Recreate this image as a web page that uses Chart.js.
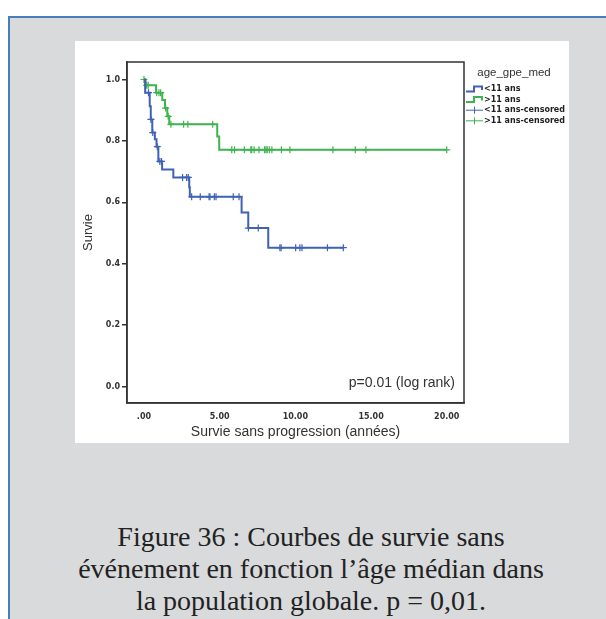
<!DOCTYPE html>
<html>
<head>
<meta charset="utf-8">
<script src="https://cdn.jsdelivr.net/npm/chart.js@4.4.0/dist/chart.umd.min.js"></script>
<style>
body { margin: 0; width: 606px; height: 619px; background: #fff; position: relative; overflow: hidden; }
#panel { position: absolute; left: 8px; top: 16px; width: 640px; height: 640px; background: #d9dadc;
         border-top: 2px solid #4a7ebb; border-left: 2px solid #4a7ebb; box-sizing: border-box; }
#box { position: absolute; left: 75px; top: 41px; width: 494px; height: 402px; background: #fff; }
#caption { position: absolute; left: 8px; top: 521px; width: 606px; text-align: center;
           font-family: "Liberation Serif", serif; font-size: 28px; line-height: 32px; color: #222; }
</style>
</head>
<body>
<div id="panel"></div>
<div id="box"><canvas id="kmChart" width="494" height="402"></canvas></div>
<div id="caption">Figure 36 : Courbes de survie sans<br>événement en fonction l’âge médian dans<br>la population globale. p = 0,01.</div>
<script>
// data
var groupLabels = ['<11 ans', '>11 ans'];
var legendTitle = 'age_gpe_med';
var pText = 'p=0.01 (log rank)';

// <11 ans : step times and survival
var youngTimes = [0, 0.08, 0.38, 0.45, 0.55, 0.72, 0.83, 0.95, 1.20, 1.94, 2.99, 3.03, 6.45, 6.89, 8.21, 13.17];
var youngSurv  = [1.0, 0.957, 0.913, 0.870, 0.827, 0.805, 0.781, 0.733, 0.707, 0.681, 0.649, 0.618, 0.567, 0.516, 0.452, 0.452];
var youngCensor = [0.30, 0.46, 0.58, 0.88, 1.05, 1.16, 2.55, 2.82, 2.93, 3.15, 3.72, 4.30, 4.36, 4.65, 4.76, 5.90, 6.28,
                   6.90, 7.55, 8.98, 9.06, 10.02, 10.30, 10.44, 12.12, 13.17];

// >11 ans : step times and survival
var oldTimes = [0, 0.10, 0.80, 1.21, 1.39, 1.54, 1.67, 4.84, 4.97, 20.0];
var oldSurv  = [1.0, 0.981, 0.957, 0.933, 0.907, 0.880, 0.854, 0.814, 0.771, 0.771];
var oldCensor = [0.0, 0.18, 0.28, 0.84, 0.99, 1.10, 1.43, 1.60, 1.78, 2.62, 2.90, 4.54, 5.80, 5.98, 6.63, 7.06, 7.12,
                 7.28, 7.60, 7.97, 8.06, 8.14, 8.28, 8.45, 9.08, 9.64, 12.48, 13.96, 14.66, 20.0];

var xTicks = [0, 5, 10, 15, 20];
var xTickLabels = ['.00', '5.00', '10.00', '15.00', '20.00'];
var yTicks = [0, 0.2, 0.4, 0.6, 0.8, 1.0];
var yTickLabels = ['0.0', '0.2', '0.4', '0.6', '0.8', '1.0'];

var blue = '#3f62b4';
var green = '#3fb34f';

// survival level of a curve at time t (for the censor ticks)
function survAt(times, surv, t) {
    var s = surv[0];
    for (var i = 0; i < times.length; i++) {
        if (times[i] <= t) s = surv[i];
    }
    return s;
}
function steps(times, surv) {
    return times.map(function (t, i) { return { x: t, y: surv[i] }; });
}
function censored(times, surv, cens) {
    return cens.map(function (t) { return { x: t, y: survAt(times, surv, t) }; });
}

// frame round the plot area
var framePlugin = {
    id: 'frame',
    afterDatasetsDraw: function (chart) {
        var a = chart.chartArea, ctx = chart.ctx;
        ctx.save();
        ctx.strokeStyle = '#333';
        ctx.lineWidth = 1.5;
        ctx.strokeRect(a.left, a.top, a.right - a.left, a.bottom - a.top);
        ctx.restore();
    }
};

// legend on the right + log rank text
var legendPlugin = {
    id: 'kmLegend',
    afterDraw: function (chart) {
        var a = chart.chartArea, ctx = chart.ctx;
        ctx.save();
        ctx.fillStyle = '#333';
        ctx.font = '11.5px "Liberation Sans"';
        ctx.textAlign = 'center';
        ctx.textBaseline = 'middle';
        ctx.fillText(legendTitle, a.right + 50, a.top + 11);
        ctx.font = 'bold 8px "DejaVu Sans"';
        ctx.textAlign = 'left';
        ctx.fillStyle = '#222';
        chart.data.datasets.forEach(function (ds, i) {
            var y = a.top + 27 + i * 10.6;
            var x0 = a.right + 2, x1 = a.right + 19;
            ctx.strokeStyle = ds.borderColor;
            ctx.beginPath();
            if (i < 2) {
                ctx.lineWidth = 2;
                ctx.moveTo(x0, y + 2.5); ctx.lineTo(x0 + 8, y + 2.5); ctx.lineTo(x0 + 8, y - 2.5);
                ctx.lineTo(x1 - 1, y - 2.5); ctx.lineTo(x1 - 1, y + 1);
            } else {
                ctx.lineWidth = 1;
                ctx.moveTo(x0, y); ctx.lineTo(x1, y);
                ctx.moveTo(x0 + 8.5, y - 3.5); ctx.lineTo(x0 + 8.5, y + 3.5);
            }
            ctx.stroke();
            ctx.fillText(ds.label, a.right + 20, y);
        });
        ctx.fillStyle = '#333';
        ctx.font = '14px "Liberation Sans"';
        ctx.textAlign = 'right';
        ctx.fillText(pText, a.right - 9, a.bottom - 20);
        ctx.restore();
    }
};

var ctx = document.getElementById('kmChart');
var kmChart = new Chart(ctx, {
    type: 'scatter',
    data: {
        datasets: [{
            label: groupLabels[0],
            data: steps(youngTimes, youngSurv),
            showLine: true,
            stepped: true,
            borderColor: blue,
            borderWidth: 2,
            pointRadius: 0
        }, {
            label: groupLabels[1],
            data: steps(oldTimes, oldSurv),
            showLine: true,
            stepped: true,
            borderColor: green,
            borderWidth: 2,
            pointRadius: 0
        }, {
            label: groupLabels[0] + '-censored',
            data: censored(youngTimes, youngSurv, youngCensor),
            showLine: false,
            pointStyle: 'cross',
            pointRadius: 3.5,
            borderColor: blue,
            pointBorderWidth: 1.2
        }, {
            label: groupLabels[1] + '-censored',
            data: censored(oldTimes, oldSurv, oldCensor),
            showLine: false,
            pointStyle: 'cross',
            pointRadius: 3.5,
            borderColor: green,
            pointBorderWidth: 1.2
        }]
    },
    options: {
        responsive: false,
        animation: false,
        layout: { padding: { top: 21, right: 105, left: 0, bottom: 0 } },
        plugins: { legend: { display: false }, tooltip: { enabled: false } },
        scales: {
            x: {
                type: 'linear',
                min: -1.12,
                max: 21.14,
                afterBuildTicks: function (s) { s.ticks = xTicks.map(function (v) { return { value: v }; }); },
                afterFit: function (s) { s.height = 40; },
                grid: { display: false, drawTicks: false },
                border: { display: true, color: '#333', width: 1.5 },
                ticks: {
                    padding: 9, color: '#333', maxRotation: 0, autoSkip: false,
                    font: { family: 'DejaVu Sans', size: 8, weight: 'bold' },
                    callback: function (v, i) { return xTickLabels[i]; }
                },
                title: {
                    display: true, text: 'Survie sans progression (années)', color: '#333',
                    font: { family: 'Liberation Sans', size: 14 }, padding: { top: 0, bottom: 2 }
                }
            },
            y: {
                min: -0.054,
                max: 1.057,
                afterBuildTicks: function (s) { s.ticks = yTicks.map(function (v) { return { value: v }; }); },
                afterFit: function (s) { s.width = 52; },
                grid: { drawOnChartArea: false, drawTicks: true, tickLength: 5, color: '#333', lineWidth: 1.5 },
                border: { display: true, color: '#333', width: 1.5 },
                ticks: {
                    padding: 2, color: '#333', autoSkip: false,
                    font: { family: 'DejaVu Sans', size: 8, weight: 'bold' },
                    callback: function (v, i) { return yTickLabels[i]; }
                },
                title: {
                    display: true, text: 'Survie', color: '#333',
                    font: { family: 'Liberation Sans', size: 13 }, padding: { top: 6, bottom: 0 }
                }
            }
        }
    },
    plugins: [framePlugin, legendPlugin]
});
</script>
</body>
</html>
